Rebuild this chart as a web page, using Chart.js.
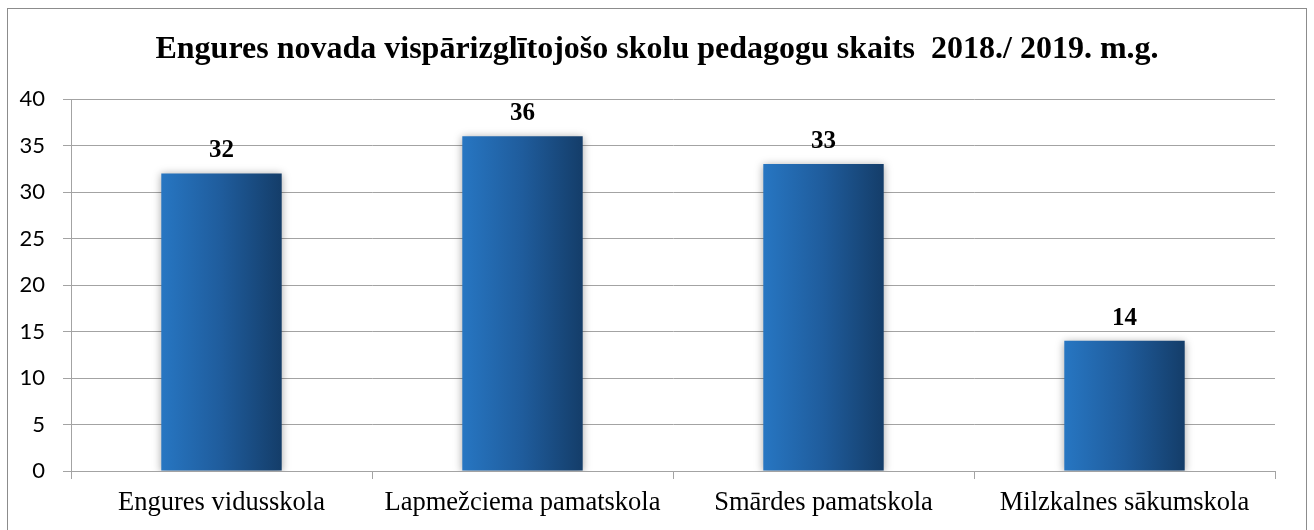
<!DOCTYPE html>
<html>
<head>
<meta charset="utf-8">
<script src="https://cdn.jsdelivr.net/npm/chart.js@4/dist/chart.umd.min.js"></script>
<style>
  html, body { margin: 0; padding: 0; background: #ffffff; }
  #wrap { width: 1314px; height: 530px; position: relative; }
</style>
</head>
<body>
<div id="wrap"><canvas id="c" width="1314" height="530"></canvas></div>
<script>
const titleText = 'Engures novada vispārizglītojošo skolu pedagogu skaits  2018./ 2019. m.g.';
const categories = ['Engures vidusskola', 'Lapmežciema pamatskola', 'Smārdes pamatskola', 'Milzkalnes sākumskola'];
const teacherCounts = [32, 36, 33, 14];
const yTicks = [0, 5, 10, 15, 20, 25, 30, 35, 40];

const BAR_FRACTION = 0.4;
const SERIF = "'Liberation Serif', 'Times New Roman', serif";
const GRID = '#a3a3a3';

function barGradient(context) {
  const chart = context.chart;
  const xs = chart.scales.x;
  if (!chart.chartArea || !xs) return '#2270b8';
  const step = categories.length > 1 ? xs.getPixelForValue(1) - xs.getPixelForValue(0) : xs.width;
  const w = step * BAR_FRACTION;
  const cx = xs.getPixelForValue(context.dataIndex);
  const g = chart.ctx.createLinearGradient(cx - w / 2, 0, cx + w / 2, 0);
  g.addColorStop(0, '#2776c2');
  g.addColorStop(0.5, '#1f5c9c');
  g.addColorStop(1, '#143d69');
  return g;
}

const framePlugin = {
  id: 'frame',
  beforeDraw(chart) {
    const ctx = chart.ctx;
    ctx.save();
    ctx.fillStyle = '#ffffff';
    ctx.fillRect(0, 0, chart.width, chart.height);
    ctx.strokeStyle = '#8c8c8c';
    ctx.lineWidth = 1;
    ctx.strokeRect(7.5, 8.5, 1299, 700);
    ctx.restore();
  },
  beforeDatasetsDraw(chart) {
    const ctx = chart.ctx;
    ctx.save();
    ctx.shadowColor = 'rgba(0,0,0,0.35)';
    ctx.shadowBlur = 8;
    ctx.shadowOffsetX = 0;
    ctx.shadowOffsetY = 1;
  },
  afterDatasetsDraw(chart) {
    const ctx = chart.ctx;
    ctx.restore();
    ctx.save();
    ctx.font = 'bold 25px ' + SERIF;
    ctx.fillStyle = '#000000';
    ctx.textAlign = 'center';
    ctx.textBaseline = 'alphabetic';
    const meta = chart.getDatasetMeta(0);
    meta.data.forEach((bar, i) => {
      ctx.fillText(String(teacherCounts[i]), bar.x, bar.y - 16);
    });
    ctx.restore();
  }
};

new Chart(document.getElementById('c'), {
  type: 'bar',
  data: {
    labels: categories,
    datasets: [{
      data: teacherCounts,
      backgroundColor: barGradient,
      borderWidth: 0,
      categoryPercentage: 1,
      barPercentage: BAR_FRACTION
    }]
  },
  options: {
    responsive: false,
    animation: false,
    layout: { padding: { left: 0, right: 0, top: 0, bottom: 0 } },
    plugins: {
      legend: { display: false },
      tooltip: { enabled: false },
      title: {
        display: true,
        text: titleText,
        color: '#000000',
        font: { family: SERIF, size: 32, weight: 'bold', lineHeight: 1.2 },
        padding: { top: 31, bottom: 29.6 }
      }
    },
    scales: {
      x: {
        offset: true,
        grid: { display: true, drawOnChartArea: false, drawTicks: true, tickLength: 8, color: GRID, offset: true },
        border: { display: true, color: GRID },
        ticks: { color: '#000000', font: { family: SERIF, size: 26.5 }, padding: 8, maxRotation: 0, autoSkip: false },
        afterFit(scale) { scale.height = 59; }
      },
      y: {
        min: 0,
        max: 40,
        afterBuildTicks(scale) { scale.ticks = yTicks.map(v => ({ value: v })); },
        grid: { color: GRID, tickLength: 8, drawTicks: true },
        border: { display: true, color: GRID },
        ticks: { color: '#000000', font: { family: "Lato, 'Open Sans', sans-serif", size: 22 }, padding: 18 },
        afterFit(scale) { scale.width = 71; }
      },
      yRightSpace: {
        type: 'linear',
        position: 'right',
        display: true,
        min: 0,
        max: 40,
        grid: { display: false, drawOnChartArea: false },
        border: { display: false },
        ticks: { display: false },
        afterFit(scale) { scale.width = 39; }
      }
    }
  },
  plugins: [framePlugin]
});
</script>
</body>
</html>
